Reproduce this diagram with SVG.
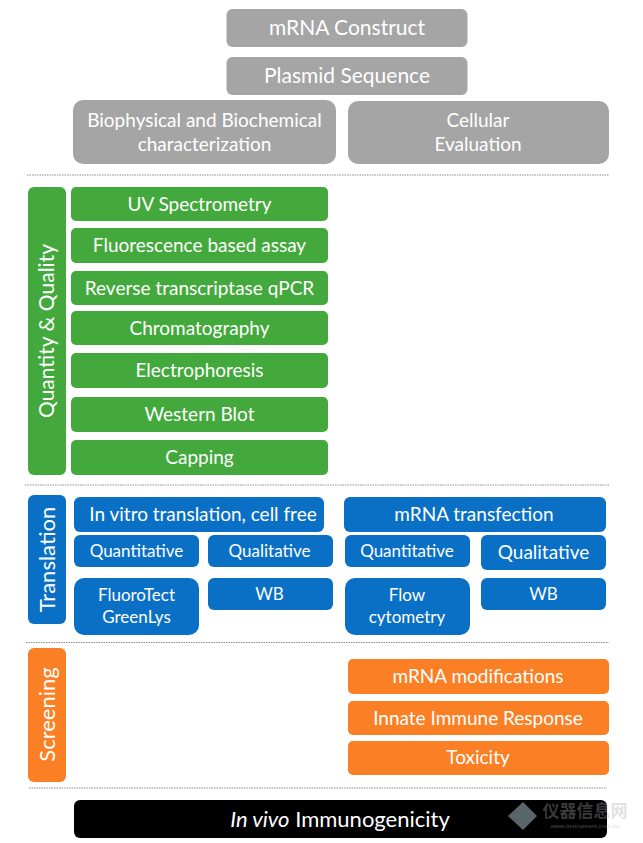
<svg xmlns="http://www.w3.org/2000/svg" width="643" height="843" viewBox="0 0 643 843">
<style>
text{font-family:Lato,"Liberation Sans",sans-serif;fill:#fff;text-anchor:middle}
.g{fill:#a5a5a5}.n{fill:#43a93c}.b{fill:#0a70c6}.o{fill:#fb7f24}.k{fill:#000}
.t21{font-size:21px}.t22{font-size:22px}.t20{font-size:20px}.t19{font-size:19px}.t17{font-size:17px}
.sep{stroke:#8c8c8c;stroke-width:1;stroke-dasharray:1.5 1;fill:none}
</style>
<rect width="643" height="843" fill="#fff"/>
<g id="separators">
<path class="sep" d="M27 175H609"/><path class="sep" d="M25 485H609"/><path class="sep" d="M26 642.500H609"/><path class="sep" d="M29 788H607"/>
</g>
<g id="connectors"/>
<g id="n-mrna"><rect class="g" x="226.500" y="9" width="241" height="38" rx="6"/><text class="t21" x="347" y="35">mRNA Construct</text></g>
<g id="n-plasmid"><rect class="g" x="226.500" y="57" width="241" height="38" rx="6"/><text class="t21" x="347" y="83">Plasmid Sequence</text></g>
<g id="n-biophys"><rect class="g" x="73" y="100" width="263" height="64" rx="10"/><text class="t19" x="204.500" y="127">Biophysical and Biochemical</text><text class="t19" x="204.500" y="151">characterization</text></g>
<g id="n-cellular"><rect class="g" x="348" y="101" width="261" height="63" rx="10"/><text class="t19" x="478" y="127">Cellular</text><text class="t19" x="478" y="151">Evaluation</text></g>
<g id="n-qq"><rect class="n" x="28" y="187" width="38" height="288" rx="6"/><text class="t21" transform="translate(54 331) rotate(-90)">Quantity &amp; Quality</text></g>
<g id="n-uv"><rect class="n" x="71" y="187" width="257" height="34" rx="5"/><text class="t19" x="199.500" y="211">UV Spectrometry</text></g>
<g id="n-fluor"><rect class="n" x="71" y="228" width="257" height="35" rx="5"/><text class="t19" x="199.500" y="252">Fluorescence based assay</text></g>
<g id="n-rt"><rect class="n" x="71" y="271" width="257" height="34" rx="5"/><text class="t19" x="199.500" y="295">Reverse transcriptase qPCR</text></g>
<g id="n-chrom"><rect class="n" x="71" y="311" width="257" height="34" rx="5"/><text class="t19" x="199.500" y="335">Chromatography</text></g>
<g id="n-electro"><rect class="n" x="71" y="353" width="257" height="35" rx="5"/><text class="t19" x="199.500" y="377">Electrophoresis</text></g>
<g id="n-western"><rect class="n" x="71" y="397" width="257" height="35" rx="5"/><text class="t19" x="199.500" y="421">Western Blot</text></g>
<g id="n-capping"><rect class="n" x="71" y="440" width="257" height="35" rx="5"/><text class="t19" x="199.500" y="464">Capping</text></g>
<g id="n-translation"><rect class="b" x="28" y="495" width="38" height="129" rx="6"/><text class="t22" transform="translate(54.500 559.500) rotate(-90)">Translation</text></g>
<g id="n-invitro"><rect class="b" x="74" y="497" width="250" height="35" rx="6"/><text class="t19" x="203" y="521">In vitro translation, cell free</text></g>
<g id="n-transf"><rect class="b" x="344" y="497" width="262" height="35" rx="6"/><text class="t19" x="474" y="521">mRNA transfection</text></g>
<g id="n-quant1"><rect class="b" x="74" y="535" width="125" height="32" rx="6"/><text class="t17" x="136.500" y="557">Quantitative</text></g>
<g id="n-qual1"><rect class="b" x="208" y="535" width="125" height="32" rx="6"/><text class="t17" x="269.500" y="557">Qualitative</text></g>
<g id="n-quant2"><rect class="b" x="345" y="535" width="125" height="32" rx="6"/><text class="t17" x="407" y="557">Quantitative</text></g>
<g id="n-qual2"><rect class="b" x="481" y="535" width="125" height="35" rx="6"/><text class="t19" x="543.500" y="559">Qualitative</text></g>
<g id="n-fluorotect"><rect class="b" x="74" y="578" width="125" height="57" rx="10"/><text class="t17" x="136.500" y="601">FluoroTect</text><text class="t17" x="136.500" y="623">GreenLys</text></g>
<g id="n-wb1"><rect class="b" x="208" y="578" width="125" height="32" rx="6"/><text class="t17" x="269.500" y="600">WB</text></g>
<g id="n-flow"><rect class="b" x="345" y="578" width="125" height="57" rx="10"/><text class="t17" x="407" y="601">Flow</text><text class="t17" x="407" y="623">cytometry</text></g>
<g id="n-wb2"><rect class="b" x="481" y="578" width="125" height="32" rx="6"/><text class="t17" x="543.500" y="600">WB</text></g>
<g id="n-screening"><rect class="o" x="28" y="648" width="38" height="134" rx="6"/><text class="t22" transform="translate(54.500 714.500) rotate(-90)">Screening</text></g>
<g id="n-mods"><rect class="o" x="348" y="659" width="261" height="35" rx="5"/><text class="t19" x="478" y="683">mRNA modifications</text></g>
<g id="n-innate"><rect class="o" x="348" y="701" width="261" height="34" rx="5"/><text class="t19" x="478" y="725">Innate Immune Response</text></g>
<g id="n-tox"><rect class="o" x="348" y="741" width="261" height="34" rx="5"/><text class="t19" x="478" y="764">Toxicity</text></g>
<g id="n-invivo"><rect class="k" x="74" y="800" width="533" height="38" rx="6"/><text class="t22" x="340" y="827"><tspan font-style="italic">In vivo</tspan> Immunogenicity</text></g>
<g id="watermark">
<path d="M523 802L537 816L523 830L508 816Z" fill="#8a9aa5" opacity="0.65"/>
<text x="585" y="817" style="font-family:'Noto Sans CJK SC',sans-serif;font-size:17px;font-weight:700;fill:#aaa;fill-opacity:.35">仪器信息网</text>
<text x="585" y="828" style="font-family:'Liberation Sans',sans-serif;font-size:6px;font-weight:700;fill:#aaa;fill-opacity:.35">www.instrument.com.cn</text>
</g>
</svg>
